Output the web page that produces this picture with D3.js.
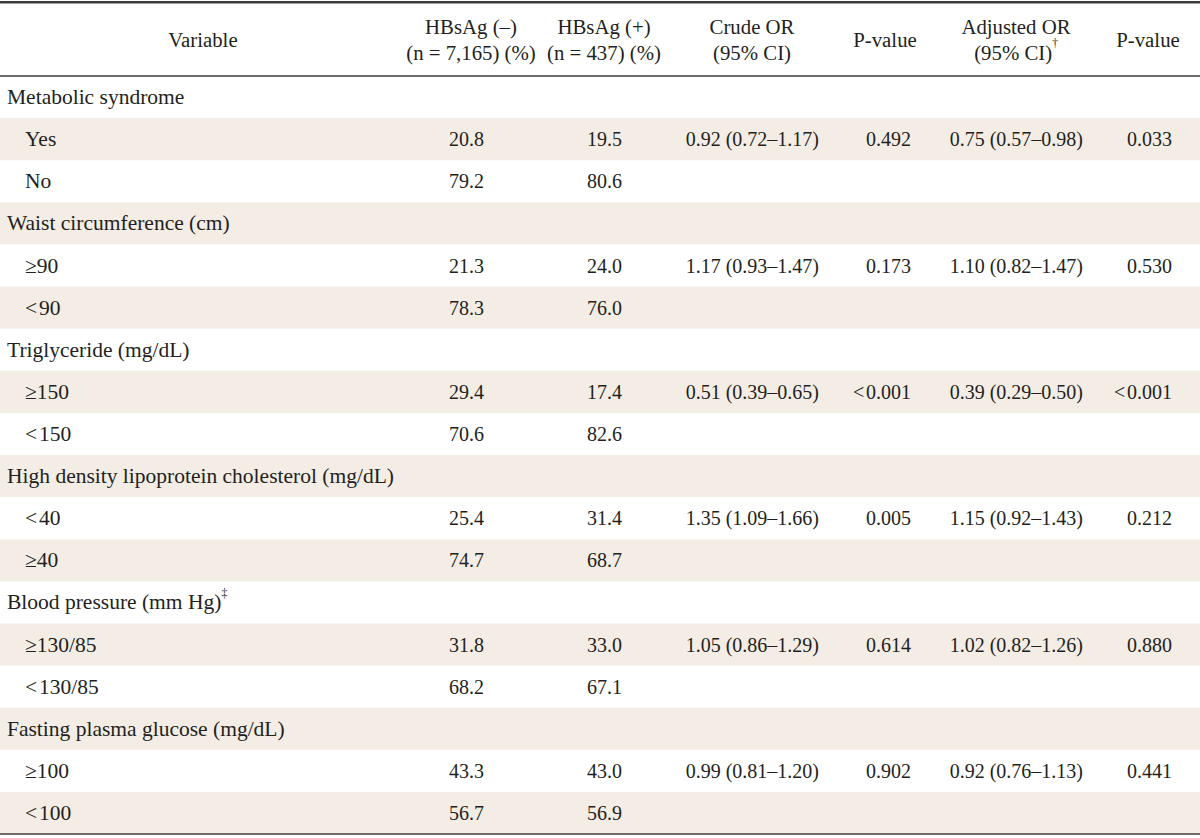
<!DOCTYPE html>
<html><head><meta charset="utf-8">
<script src="https://cdn.jsdelivr.net/npm/d3@7"></script>
<style>
html,body{margin:0;padding:0;background:#fff;}
svg{display:block;}
text{font-family:"Liberation Serif","Times New Roman",serif;fill:#231f20;}
</style></head>
<body><svg id="chart" width="1200" height="838"></svg>
<script>
// Column headers (two lines each)
const headers = [
  ["Variable"],
  ["HBsAg (–)", "(n = 7,165) (%)"],
  ["HBsAg (+)", "(n = 437) (%)"],
  ["Crude OR", "(95% CI)"],
  ["P-value"],
  ["Adjusted OR", "(95% CI)†"],
  ["P-value"]
];
// Row labels; level 0 = group, 1 = subcategory
const labels = ["Metabolic syndrome","Yes","No","Waist circumference (cm)","≥90","<\u200a90",
  "Triglyceride (mg/dL)","≥150","<\u200a150","High density lipoprotein cholesterol (mg/dL)","<\u200a40","≥40",
  "Blood pressure (mm Hg)‡","≥130/85","<\u200a130/85","Fasting plasma glucose (mg/dL)","≥100","<\u200a100"];
const levels = [0,1,1,0,1,1,0,1,1,0,1,1,0,1,1,0,1,1];
const hbsNeg = ["","20.8","79.2","","21.3","78.3","","29.4","70.6","","25.4","74.7","","31.8","68.2","","43.3","56.7"];
const hbsPos = ["","19.5","80.6","","24.0","76.0","","17.4","82.6","","31.4","68.7","","33.0","67.1","","43.0","56.9"];
const crudeOR = ["","0.92 (0.72–1.17)","","","1.17 (0.93–1.47)","","","0.51 (0.39–0.65)","","","1.35 (1.09–1.66)","","","1.05 (0.86–1.29)","","","0.99 (0.81–1.20)",""];
const crudeP = ["","0.492","","","0.173","","","<\u200a0.001","","","0.005","","","0.614","","","0.902",""];
const adjOR = ["","0.75 (0.57–0.98)","","","1.10 (0.82–1.47)","","","0.39 (0.29–0.50)","","","1.15 (0.92–1.43)","","","1.02 (0.82–1.26)","","","0.92 (0.76–1.13)",""];
const adjP = ["","0.033","","","0.530","","","<\u200a0.001","","","0.212","","","0.880","","","0.441",""];

const W = 1200, fsNum = 20, fsLab = 21.5, fsHead = 20.8;
const svg = d3.select("#chart");
const topY = 2, headBottom = 76, bottomY = 834;
const y = d3.scaleBand().domain(d3.range(labels.length)).range([headBottom, bottomY]).padding(0);

const headerCenters = [203, 471, 604, 752, 885, 1016, 1148];
const valueRight = [484, 622, 819, 911, 1083, 1172];
const valueCols = [hbsNeg, hbsPos, crudeOR, crudeP, adjOR, adjP];

// stripes
svg.selectAll("rect.stripe").data(d3.range(labels.length).filter(i => i % 2 === 1))
  .join("rect").attr("class","stripe")
  .attr("x",0).attr("width",W).attr("y",i=>y(i)).attr("height",y.bandwidth())
  .attr("fill","#f4ede6");

// rules
svg.append("rect").attr("x",0).attr("y",topY-1).attr("width",W).attr("height",2.5).attr("fill","#3a3a3a");
svg.append("rect").attr("x",0).attr("y",headBottom-0.8).attr("width",W).attr("height",1.6).attr("fill","#4a4a4a");
svg.append("rect").attr("x",0).attr("y",bottomY-0.8).attr("width",W).attr("height",1.6).attr("fill","#4a4a4a");

function addText(sel, str, x, yy, anchor, fs){
  const m = str.match(/^(.*?)([†‡])$/);
  const t = sel.append("text").attr("x",x).attr("y",yy).attr("text-anchor",anchor)
    .attr("dominant-baseline","central").attr("font-size",fs);
  if(m){
    t.append("tspan").text(m[1]);
    t.append("tspan").text(m[2]).attr("font-size",fs*0.55).attr("dy",-9);
  } else t.text(str);
  return t;
}
const hg = svg.append("g");
headers.forEach((h,i)=>{
  if(h.length===1) addText(hg, h[0], headerCenters[i], 39, "middle", fsHead);
  else { addText(hg, h[0], headerCenters[i], 26, "middle", fsHead); addText(hg, h[1], headerCenters[i], 52, "middle", fsHead); }
});

const bg = svg.append("g");
labels.forEach((lab,i)=>{
  const cy = y(i) + y.bandwidth()/2;
  addText(bg, lab, levels[i]===0 ? 7 : 25, cy, "start", fsLab);
  valueCols.forEach((col,c)=>{
    if(col[i]) addText(bg, col[i], valueRight[c], cy, "end", fsNum);
  });
});
</script></body></html>
